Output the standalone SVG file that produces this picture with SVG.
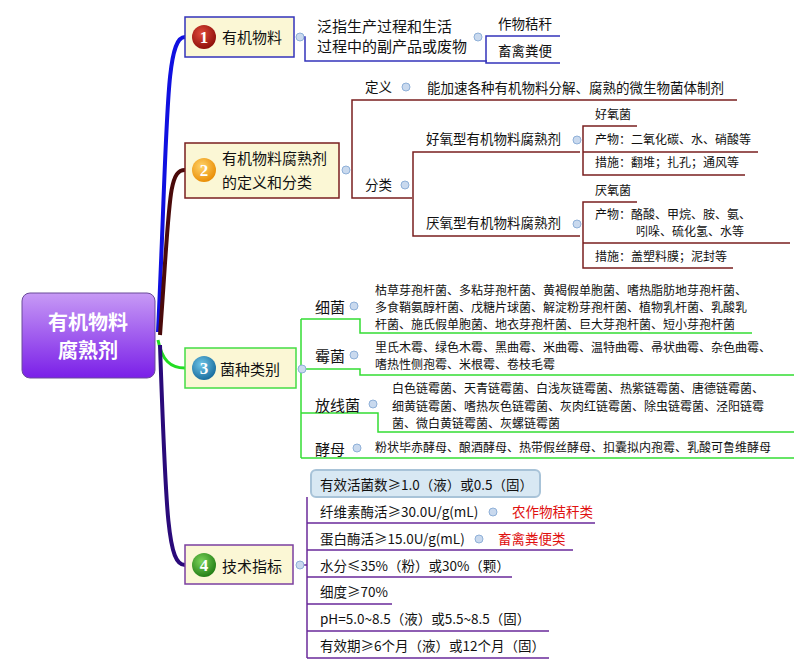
<svg xmlns="http://www.w3.org/2000/svg" width="794" height="671" viewBox="0 0 794 671">
<defs>
<linearGradient id="cg" x1="0" y1="0" x2="0" y2="1"><stop offset="0" stop-color="#c79af5"/><stop offset="1" stop-color="#7a1fe8"/></linearGradient>
<radialGradient id="i1" cx="0.4" cy="0.35" r="0.7"><stop offset="0" stop-color="#e04a3a"/><stop offset="1" stop-color="#8a0c08"/></radialGradient>
<radialGradient id="i2" cx="0.4" cy="0.35" r="0.7"><stop offset="0" stop-color="#ffd36a"/><stop offset="1" stop-color="#e88a00"/></radialGradient>
<radialGradient id="i3" cx="0.4" cy="0.35" r="0.7"><stop offset="0" stop-color="#6fc6e8"/><stop offset="1" stop-color="#14689a"/></radialGradient>
<radialGradient id="i4" cx="0.4" cy="0.35" r="0.7"><stop offset="0" stop-color="#7cd45a"/><stop offset="1" stop-color="#1f7a12"/></radialGradient>
</defs>
<style>
text{font-family:"Noto Sans CJK SC","Liberation Sans",sans-serif;fill:#111}
.t15{font-size:15px}.t14{font-size:13.5px}.t12{font-size:12px}.t16{font-size:16px}
.red{fill:#e01010}
.col{fill:#c9d9ee;stroke:#8fb0d8;stroke-width:1}
.node{fill:#fbf7d5}
.ic{fill:#fff;font-family:"Liberation Serif",serif;font-weight:bold;font-size:17px;text-anchor:middle}
path,line{fill:none}
</style>
<g id="connectors">
<path d="M158 332 C 168 120, 165 37, 185 37" stroke="#1010e0" stroke-width="4"/>
<path d="M160 335 C 170 200, 168 170, 185 170" stroke="#4a0a0a" stroke-width="4"/>
<path d="M158 340 C 162 360, 170 368, 185 368" stroke="#22dd22" stroke-width="3"/>
<path d="M160 345 C 166 520, 168 565, 185 565" stroke="#2a0a7a" stroke-width="4"/>
<g stroke="#3333bb" stroke-width="1.5">
<path d="M300 37 H305 V61 H487"/>
<path d="M486 38 V36 H560 M486 38 V63 H560"/>
</g>
<g stroke="#7a1f1f" stroke-width="1.5">
<path d="M352 170 V100 H737 M352 170 V198 H412"/>
<path d="M413 184 V152 H580 M413 184 V236 H580"/>
<path d="M583 139 V126 H637 M583 139 V152 H758 M583 139 V175 H745"/>
<path d="M583 224 V202 H637 M583 224 V243 H790 M583 224 V268 H733"/>
</g>
<g stroke="#33dd33" stroke-width="1.5">
<path d="M302 369 H306"/>
<path d="M301 319 V458"/>
<path d="M301 319 H360 V333 H752"/>
<path d="M301 369 H360 V375 H794"/>
<path d="M301 413 H378 V432 H794"/>
<path d="M301 458 H794"/>
</g>
<g stroke="#6a2a9a" stroke-width="1.5">
<path d="M300 565 H307"/>
<path d="M307 497 V658"/>
<path d="M307 523 H595 M307 550 H573 M307 577 H512 M307 604 H392 M307 631 H549 M307 658 H549"/>
</g>
</g>
<g id="center">
<rect x="22" y="293" width="133" height="85" rx="8" fill="url(#cg)" stroke="#6a4a9a"/>
<text x="88" y="330" text-anchor="middle" style="fill:#fff;font-size:20px;font-weight:bold">有机物料</text>
<text x="88" y="358" text-anchor="middle" style="fill:#fff;font-size:20px;font-weight:bold">腐熟剂</text>
</g>
<g id="n1">
<rect class="node" x="185" y="17" width="109" height="40" stroke="#3333bb" stroke-width="1.5"/>
<circle cx="204" cy="37" r="12" fill="url(#i1)"/><text class="ic" x="204" y="43">1</text>
<text class="t15" x="222" y="43">有机物料</text>
<circle class="col" cx="300" cy="37" r="4"/>
<text class="t15" x="317" y="32">泛指生产过程和生活</text>
<text class="t15" x="317" y="52">过程中的副产品或废物</text>
<circle class="col" cx="478" cy="37" r="4"/>
<text class="t14" x="498" y="29">作物秸秆</text>
<text class="t14" x="498" y="56">畜禽粪便</text>
</g>
<g id="n2">
<rect class="node" x="185" y="143" width="154" height="55" stroke="#7a1f1f" stroke-width="1.5"/>
<circle cx="204" cy="170" r="12" fill="url(#i2)"/><text class="ic" x="204" y="176">2</text>
<text class="t15" x="222" y="164">有机物料腐熟剂</text>
<text class="t15" x="222" y="188">的定义和分类</text>
<circle class="col" cx="346" cy="170" r="4"/>
<text class="t14" x="365" y="92">定义</text>
<circle class="col" cx="406" cy="87" r="4"/>
<text class="t14" x="427" y="93">能加速各种有机物料分解、腐熟的微生物菌体制剂</text>
<text class="t14" x="365" y="190">分类</text>
<circle class="col" cx="405" cy="185" r="4"/>
<text class="t14" x="426" y="144">好氧型有机物料腐熟剂</text>
<circle class="col" cx="577" cy="140" r="4"/>
<text class="t12" x="595" y="119">好氧菌</text>
<text class="t12" x="595" y="144">产物：二氧化碳、水、硝酸等</text>
<text class="t12" x="595" y="167">措施：翻堆；扎孔；通风等</text>
<text class="t14" x="426" y="228">厌氧型有机物料腐熟剂</text>
<circle class="col" cx="577" cy="224" r="4"/>
<text class="t12" x="595" y="195">厌氧菌</text>
<text class="t12" x="595" y="219">产物：酪酸、甲烷、胺、氨、</text>
<text class="t12" x="636" y="236">吲哚、硫化氢、水等</text>
<text class="t12" x="595" y="261">措施：盖塑料膜；泥封等</text>
</g>
<g id="n3">
<rect class="node" x="185" y="348" width="111" height="40" stroke="#44dd44" stroke-width="1.5"/>
<circle cx="204" cy="368" r="12" fill="url(#i3)"/><text class="ic" x="204" y="374">3</text>
<text class="t15" x="220" y="375">菌种类别</text>
<circle class="col" cx="302" cy="369" r="4"/>
<text class="t15" x="315" y="313">细菌</text><circle class="col" cx="354" cy="306" r="4"/>
<text class="t12" x="375" y="295">枯草芽孢杆菌、多粘芽孢杆菌、黄褐假单胞菌、嗜热脂肪地芽孢杆菌、</text>
<text class="t12" x="375" y="312">多食鞘氨醇杆菌、戊糖片球菌、解淀粉芽孢杆菌、植物乳杆菌、乳酸乳</text>
<text class="t12" x="375" y="329">杆菌、施氏假单胞菌、地衣芽孢杆菌、巨大芽孢杆菌、短小芽孢杆菌</text>
<text class="t15" x="315" y="362">霉菌</text><circle class="col" cx="354" cy="355" r="4"/>
<text class="t12" x="375" y="352">里氏木霉、绿色木霉、黑曲霉、米曲霉、温特曲霉、帚状曲霉、杂色曲霉、</text>
<text class="t12" x="375" y="369">嗜热性侧孢霉、米根霉、卷枝毛霉</text>
<text class="t15" x="315" y="411">放线菌</text><circle class="col" cx="373" cy="404" r="4"/>
<text class="t12" x="392" y="393">白色链霉菌、天青链霉菌、白浅灰链霉菌、热紫链霉菌、唐德链霉菌、</text>
<text class="t12" x="392" y="411">细黄链霉菌、嗜热灰色链霉菌、灰肉红链霉菌、除虫链霉菌、泾阳链霉</text>
<text class="t12" x="392" y="428">菌、微白黄链霉菌、灰螺链霉菌</text>
<text class="t15" x="315" y="455">酵母</text><circle class="col" cx="357" cy="448" r="4"/>
<text class="t12" x="375" y="452">粉状毕赤酵母、酿酒酵母、热带假丝酵母、扣囊拟内孢霉、乳酸可鲁维酵母</text>
</g>
<g id="n4">
<rect class="node" x="185" y="545" width="108" height="39" stroke="#7b3fa0" stroke-width="1.5"/>
<circle cx="204" cy="565" r="12" fill="url(#i4)"/><text class="ic" x="204" y="571">4</text>
<text class="t15" x="222" y="572">技术指标</text>
<circle class="col" cx="300" cy="565" r="4"/>
<rect x="311" y="470" width="229" height="27" rx="5" fill="#d8e8f3" stroke="#a8c3d8" stroke-width="2"/>
<text class="t14" x="320" y="490">有效活菌数≥1.0（液）或0.5（固）</text>
<text class="t14" x="320" y="517">纤维素酶活≥30.0U/g(mL)</text><circle class="col" cx="493" cy="512" r="4"/>
<text class="t14 red" x="512" y="517">农作物秸秆类</text>
<text class="t14" x="320" y="544">蛋白酶活≥15.0U/g(mL)</text><circle class="col" cx="479" cy="539" r="4"/>
<text class="t14 red" x="498" y="544">畜禽粪便类</text>
<text class="t14" x="320" y="571">水分≤35%（粉）或30%（颗）</text>
<text class="t14" x="320" y="597">细度≥70%</text>
<text class="t14" x="320" y="624">pH=5.0~8.5（液）或5.5~8.5（固）</text>
<text class="t14" x="320" y="651">有效期≥6个月（液）或12个月（固）</text>
</g>
</svg>
